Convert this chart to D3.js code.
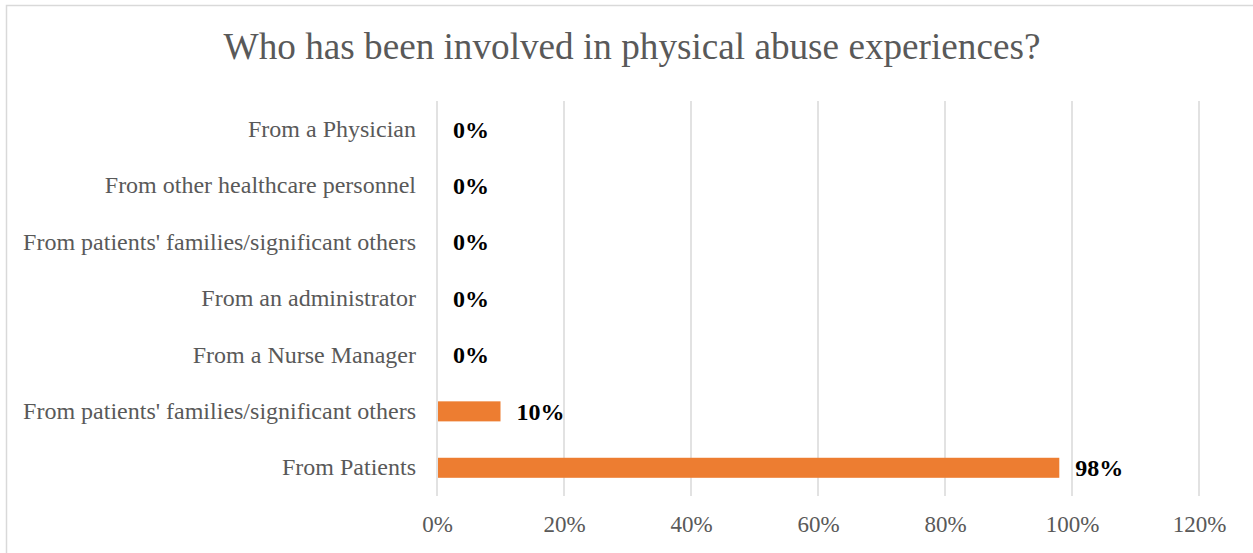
<!DOCTYPE html>
<html>
<head>
<meta charset="utf-8">
<script src="https://cdn.jsdelivr.net/npm/d3@7"></script>
<style>
  html, body { margin: 0; padding: 0; background: #ffffff; }
  svg { display: block; }
  text { font-family: "Liberation Serif", "Times New Roman", serif; }
</style>
</head>
<body>
<script>
// Chart data (top row first)
const categories = [
  "From a Physician",
  "From other healthcare personnel",
  "From patients' families/significant others",
  "From an administrator",
  "From a Nurse Manager",
  "From patients' families/significant others ",
  "From Patients"
];
const values = [0, 0, 0, 0, 0, 0.10, 0.98];
const tickValues = [0, 0.2, 0.4, 0.6, 0.8, 1.0, 1.2];
const chartTitle = "Who has been involved in physical abuse experiences?";

const W = 1253, H = 553;
const plot = { left: 437, right: 1199, top: 101, bottom: 496 };

const svg = d3.select("body").append("svg")
  .attr("width", W).attr("height", H);

// chart frame
svg.append("rect")
  .attr("x", 6.5).attr("y", 5.5)
  .attr("width", W + 10).attr("height", H + 10)
  .attr("fill", "#ffffff")
  .attr("stroke", "#d9d9d9").attr("stroke-width", 1.5);

const x = d3.scaleLinear()
  .domain([0, 1.2])
  .range([plot.left, plot.right]);

const y = d3.scaleBand()
  .domain(d3.range(categories.length))
  .range([plot.top, plot.bottom])
  .paddingInner(0.645)
  .paddingOuter(0.3225);

// title
svg.append("text")
  .attr("x", 632).attr("y", 59)
  .attr("text-anchor", "middle")
  .attr("font-size", 37.2)
  .attr("fill", "#595959")
  .text(chartTitle);

// vertical gridlines
svg.append("g")
  .selectAll("line")
  .data(tickValues)
  .join("line")
  .attr("x1", d => x(d)).attr("x2", d => x(d))
  .attr("y1", plot.top).attr("y2", plot.bottom)
  .attr("stroke", "#d9d9d9").attr("stroke-width", 1.5);

// x axis tick labels
const xAxis = d3.axisBottom(x)
  .tickValues(tickValues)
  .tickFormat(d3.format(".0%"))
  .tickSize(0)
  .tickPadding(20);
const gx = svg.append("g")
  .attr("transform", `translate(0,${plot.bottom})`)
  .call(xAxis);
gx.select(".domain").remove();
gx.selectAll("text")
  .attr("font-family", "Liberation Serif, Times New Roman, serif")
  .attr("font-size", 23)
  .attr("fill", "#595959");

// category labels
const yAxis = d3.axisLeft(y)
  .tickFormat(i => categories[i])
  .tickSize(0)
  .tickPadding(21);
const gy = svg.append("g")
  .attr("transform", `translate(${plot.left},0)`)
  .call(yAxis);
gy.select(".domain").remove();
gy.selectAll("text")
  .attr("font-family", "Liberation Serif, Times New Roman, serif")
  .attr("font-size", 24)
  .attr("fill", "#595959");

// bars
svg.append("g")
  .selectAll("rect")
  .data(values)
  .join("rect")
  .attr("x", x(0) + 1)
  .attr("y", (d, i) => y(i))
  .attr("width", d => Math.max(0, x(d) - x(0) - 1))
  .attr("height", y.bandwidth())
  .attr("fill", "#ed7d31");

// value labels
svg.append("g")
  .selectAll("text")
  .data(values)
  .join("text")
  .attr("x", d => x(d) + 16)
  .attr("y", (d, i) => y(i) + y.bandwidth() / 2)
  .attr("dy", "0.35em")
  .attr("font-size", 24)
  .attr("font-weight", "bold")
  .attr("fill", "#000000")
  .text(d => d3.format(".0%")(d));
</script>
</body>
</html>
